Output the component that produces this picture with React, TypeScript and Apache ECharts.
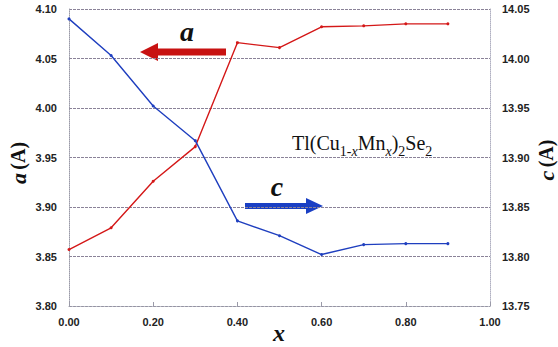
import React, { useEffect, useRef } from "react";
import * as echarts from "echarts";

// Composition x in Tl(Cu1-xMnx)2Se2
const xValues = [0, 0.1, 0.2, 0.3, 0.4, 0.5, 0.6, 0.7, 0.8, 0.9];
// Lattice parameter a (Å), left axis
const aValues = [3.857, 3.879, 3.926, 3.961, 4.066, 4.061, 4.082, 4.083, 4.085, 4.085];
// Lattice parameter c (Å), right axis
const cValues = [14.04, 14.003, 13.952, 13.917, 13.836, 13.821, 13.802, 13.812, 13.813, 13.813];

const RED = "#d41818";
const BLUE = "#1f3fbf";
const SERIF = "Liberation Serif";
const SANS = "Liberation Sans";

const boldItalic = (size: number) => ({
  fontFamily: SERIF,
  fontStyle: "italic",
  fontWeight: "bold",
  fontSize: size,
  fill: "#111",
});
const boldUpright = (size: number) => ({
  fontFamily: SERIF,
  fontWeight: "bold",
  fontSize: size,
  fill: "#111",
});

export default function App() {
  const ref = useRef<HTMLDivElement>(null);

  useEffect(() => {
    if (!ref.current) return;
    const chart = echarts.init(ref.current, null, { renderer: "svg" });
    const axisLabel = {
      fontFamily: SANS,
      fontWeight: "bold" as const,
      fontSize: 11,
      color: "#222",
      formatter: (v: number) => v.toFixed(2),
    };
    chart.setOption({
      animation: false,
      backgroundColor: "#ffffff",
      grid: { left: 69, right: 68, top: 9, bottom: 41, containLabel: false },
      xAxis: {
        type: "value",
        min: 0,
        max: 1,
        interval: 0.2,
        axisLine: { show: true, lineStyle: { color: "#9a9aa8", type: "dotted" } },
        axisTick: { show: true, inside: true, length: 4, lineStyle: { color: "#9a9aa8" } },
        splitLine: { show: false },
        axisLabel: { ...axisLabel, margin: 10 },
      },
      yAxis: [
        {
          type: "value",
          min: 3.8,
          max: 4.1,
          interval: 0.05,
          position: "left",
          axisLine: { show: true, lineStyle: { color: "#9a9aa8", type: "dotted" } },
          axisTick: { show: false },
          splitLine: { show: true, lineStyle: { color: "#8a8298", type: [3, 1], width: 1 } },
          axisLabel: { ...axisLabel, margin: 12 },
        },
        {
          type: "value",
          min: 13.75,
          max: 14.05,
          interval: 0.05,
          position: "right",
          axisLine: { show: true, lineStyle: { color: "#b0b0c0", type: "dotted" } },
          axisTick: { show: false },
          splitLine: { show: false },
          axisLabel: { ...axisLabel, margin: 12 },
        },
      ],
      series: [
        {
          name: "a",
          type: "line",
          yAxisIndex: 0,
          data: xValues.map((x, i) => [x, aValues[i]]),
          symbol: "circle",
          symbolSize: 3,
          lineStyle: { color: RED, width: 1.4 },
          itemStyle: { color: RED },
        },
        {
          name: "c",
          type: "line",
          yAxisIndex: 1,
          data: xValues.map((x, i) => [x, cValues[i]]),
          symbol: "circle",
          symbolSize: 3,
          lineStyle: { color: BLUE, width: 1.4 },
          itemStyle: { color: BLUE },
        },
      ],
      graphic: [
        // left axis title
        {
          type: "text",
          x: 18,
          y: 163,
          rotation: Math.PI / 2,
          style: {
            text: "{i|a} {n|(A)}",
            align: "center",
            verticalAlign: "middle",
            rich: { i: boldItalic(22), n: boldUpright(20) },
          },
        },
        // right axis title
        {
          type: "text",
          x: 546,
          y: 160,
          rotation: Math.PI / 2,
          style: {
            text: "{i|c} {n|(A)}",
            align: "center",
            verticalAlign: "middle",
            rich: { i: boldItalic(22), n: boldUpright(20) },
          },
        },
        // x axis title
        {
          type: "text",
          x: 279,
          y: 333,
          style: { text: "x", align: "center", verticalAlign: "middle", ...boldItalic(24) },
        },
        // compound formula
        {
          type: "text",
          x: 292,
          y: 153,
          style: {
            text: "{t|Tl(Cu}{s|1-}{si|x}{t|Mn}{si|x}{t|)}{s|2}{t|Se}{s|2}",
            align: "left",
            verticalAlign: "bottom",
            rich: {
              t: { fontFamily: SERIF, fontSize: 20, fill: "#111", verticalAlign: "bottom" },
              s: { fontFamily: SERIF, fontSize: 14, fill: "#111", verticalAlign: "bottom", padding: [0, 0, -5, 0] },
              si: { fontFamily: SERIF, fontStyle: "italic", fontSize: 14, fill: "#111", verticalAlign: "bottom", padding: [0, 0, -5, 0] },
            },
          },
        },
        // label and arrow for a
        {
          type: "text",
          x: 187,
          y: 31,
          style: { text: "a", align: "center", verticalAlign: "middle", ...boldItalic(28) },
        },
        {
          type: "polygon",
          shape: {
            points: [
              [226, 48.5],
              [158, 48.5],
              [158, 43],
              [140, 52],
              [158, 61],
              [158, 55.5],
              [226, 55.5],
            ],
          },
          style: { fill: "#c81212" },
        },
        // label and arrow for c
        {
          type: "text",
          x: 277,
          y: 186,
          style: { text: "c", align: "center", verticalAlign: "middle", ...boldItalic(28) },
        },
        {
          type: "polygon",
          shape: {
            points: [
              [245, 203],
              [306, 203],
              [306, 198],
              [323, 206],
              [306, 214],
              [306, 209],
              [245, 209],
            ],
          },
          style: { fill: "#1a3fc4" },
        },
      ],
    });
    return () => chart.dispose();
  }, []);

  return <div ref={ref} style={{ width: 558, height: 347, position: "absolute", left: 0, top: 0 }} />;
}
